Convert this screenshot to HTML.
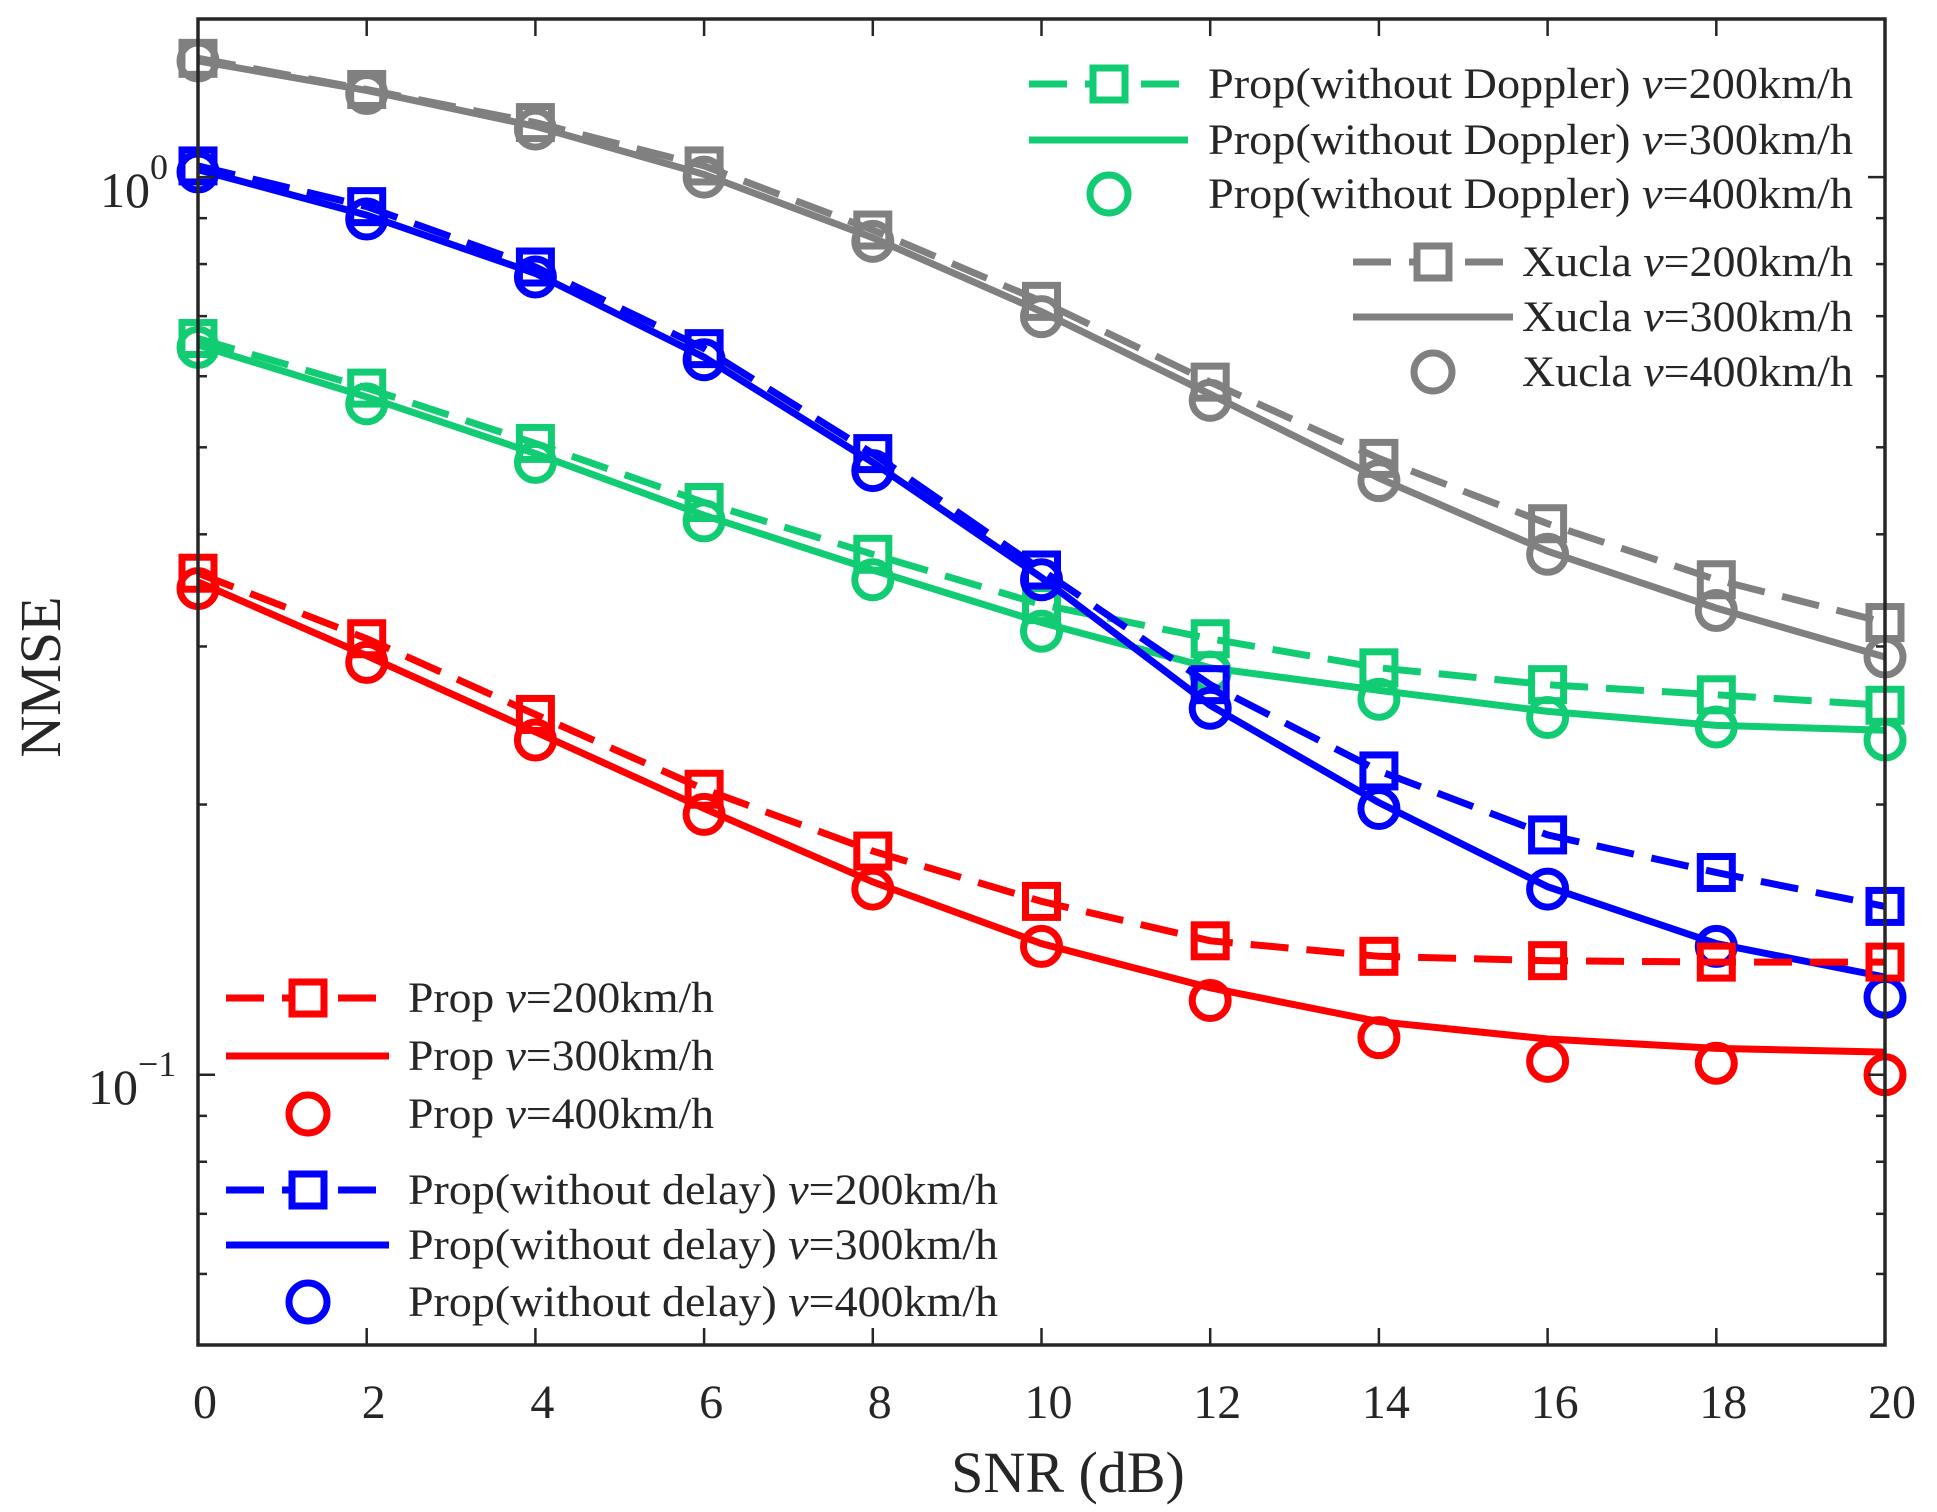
<!DOCTYPE html>
<html><head><meta charset="utf-8"><style>
html,body{margin:0;padding:0;background:#fff}
svg{display:block}
text{font-family:"Liberation Serif",serif;fill:#262626}
</style></head><body>
<svg id="chart" width="1937" height="1512" viewBox="0 0 1937 1512" xmlns="http://www.w3.org/2000/svg">
<rect width="1937" height="1512" fill="#fff"/>
<g id="series"></g>
<g id="axes"></g>
<g id="legends"></g>
</svg>
<script>
const snr = [0,2,4,6,8,10,12,14,16,18,20];
const xTicks = [0,2,4,6,8,10,12,14,16,18,20];
const xucla200 = [1.356,1.252,1.150,1.029,0.873,0.727,0.591,0.486,0.411,0.356,0.319];
const xucla300 = [1.347,1.249,1.139,1.007,0.856,0.708,0.573,0.462,0.383,0.331,0.292];
const xucla400 = [1.347,1.239,1.131,1.000,0.848,0.699,0.564,0.459,0.380,0.329,0.292];
const noDelay200 = [1.029,0.927,0.794,0.644,0.492,0.365,0.272,0.218,0.185,0.168,0.154];
const noDelay300 = [1.019,0.907,0.781,0.630,0.481,0.358,0.258,0.201,0.162,0.140,0.1285];
const noDelay400 = [1.013,0.898,0.774,0.626,0.471,0.356,0.256,0.198,0.161,0.139,0.122];
const noDop200 = [0.661,0.582,0.505,0.434,0.380,0.334,0.306,0.284,0.272,0.265,0.258];
const noDop300 = [0.650,0.569,0.492,0.420,0.365,0.319,0.284,0.268,0.254,0.245,0.242];
const noDop400 = [0.646,0.559,0.481,0.414,0.356,0.312,0.281,0.262,0.250,0.244,0.236];
const prop200 = [0.362,0.306,0.252,0.208,0.1775,0.156,0.141,0.1355,0.134,0.1335,0.1335];
const prop300 = [0.354,0.293,0.241,0.198,0.164,0.140,0.125,0.1146,0.1096,0.107,0.106];
const prop400 = [0.348,0.288,0.236,0.195,0.161,0.139,0.121,0.110,0.1035,0.103,0.100];

const NS='http://www.w3.org/2000/svg';
const L=198,R=1885,T=19,B=1345;
const yMin=0.05,yMax=1.5;
const xs=v=>L+(v-0)/(20-0)*(R-L);
const ys=v=>T+(Math.log10(yMax)-Math.log10(v))/(Math.log10(yMax)-Math.log10(yMin))*(B-T);
function mk(tag,attrs,parent){const e=document.createElementNS(NS,tag);for(const k in attrs)e.setAttribute(k,attrs[k]);parent.appendChild(e);return e;}
const gS=document.getElementById('series'),gA=document.getElementById('axes'),gL=document.getElementById('legends');
const RED='#ff0000',BLUE='#0000ff',GREEN='#12cc74',GRAY='#808080';
const DASH='38 18';
const LW=7, MW=7;
function series(vals,color,type,name){
  const g=mk('g',{},gS);
  
  
  const pts=vals.map((v,i)=>xs(snr[i]).toFixed(1)+','+ys(v).toFixed(1)).join(' ');
  if(type==='sq'){
    const p=mk('polyline',{points:pts,fill:'none',stroke:color,'stroke-width':LW,'stroke-dasharray':DASH},g);
    
    
    vals.forEach((v,i)=>{const r=mk('rect',{x:xs(snr[i])-16,y:ys(v)-16,width:32,height:32,fill:'none',stroke:color,'stroke-width':MW},g);
      
      });
  } else if(type==='line'){
    const p=mk('polyline',{points:pts,fill:'none',stroke:color,'stroke-width':LW},g);
    
    
  } else {
    vals.forEach((v,i)=>{const c=mk('circle',{cx:xs(snr[i]),cy:ys(v),r:18,fill:'none',stroke:color,'stroke-width':MW},g);
      
      });
  }
}
series(xucla200,GRAY,'sq','xucla-200');series(xucla300,GRAY,'line','xucla-300');series(xucla400,GRAY,'circ','xucla-400');
series(noDop200,GREEN,'sq','prop-no-doppler-200');series(noDop300,GREEN,'line','prop-no-doppler-300');series(noDop400,GREEN,'circ','prop-no-doppler-400');
series(noDelay200,BLUE,'sq','prop-no-delay-200');series(noDelay300,BLUE,'line','prop-no-delay-300');series(noDelay400,BLUE,'circ','prop-no-delay-400');
series(prop200,RED,'sq','prop-200');series(prop300,RED,'line','prop-300');series(prop400,RED,'circ','prop-400');

// axes
const box=mk('rect',{x:L,y:T,width:R-L,height:B-T,fill:'none',stroke:'#262626','stroke-width':3.5},gA);


xTicks.forEach(t=>{const x=xs(t);
  mk('line',{x1:x,y1:B,x2:x,y2:B-17,stroke:'#262626','stroke-width':2.5},gA);
  mk('line',{x1:x,y1:T,x2:x,y2:T+17,stroke:'#262626','stroke-width':2.5},gA);
  const tx=mk('text',{x:x+7,y:1418,'font-size':48,'text-anchor':'middle'},gA);tx.textContent=t;
  
  
});
const yMinor=[0.05,0.06,0.07,0.08,0.09,0.2,0.3,0.4,0.5,0.6,0.7,0.8,0.9];
yMinor.forEach(v=>{const y=ys(v);
  mk('line',{x1:L,y1:y,x2:L+9,y2:y,stroke:'#262626','stroke-width':2.5},gA);
  mk('line',{x1:R,y1:y,x2:R-9,y2:y,stroke:'#262626','stroke-width':2.5},gA);});
[1,0.1].forEach(v=>{const y=ys(v);
  mk('line',{x1:L,y1:y,x2:L+17,y2:y,stroke:'#262626','stroke-width':2.5},gA);
  mk('line',{x1:R,y1:y,x2:R-17,y2:y,stroke:'#262626','stroke-width':2.5},gA);});
const y0=mk('text',{x:100,y:207,'font-size':50},gA);y0.innerHTML='10<tspan dy="-28" font-size="36">0</tspan>';


const y1=mk('text',{x:88,y:1104,'font-size':50},gA);y1.innerHTML='10<tspan dy="-28" font-size="36">−1</tspan>';


const xt=mk('text',{x:1068,y:1492,'font-size':58,'text-anchor':'middle'},gA);xt.textContent='SNR (dB)';


const yt=mk('text',{x:0,y:0,'font-size':58,'text-anchor':'middle',transform:'translate(60,677) rotate(-90)'},gA);yt.textContent='NMSE';



// legends
function entry(cx,x1,x2,y,color,type,label,tx,tEnd,name){
  const g=mk('g',{},gL);
  
  
  if(type!=='circ') mk('line',{x1:x1,y1:y,x2:x2,y2:y,stroke:color,'stroke-width':LW,'stroke-dasharray':type==='sq'?'38 18':'none'},g);
  if(type==='sq') mk('rect',{x:cx-16,y:y-16,width:32,height:32,fill:'#fff',stroke:color,'stroke-width':MW},g);
  if(type==='circ') mk('circle',{cx:cx,cy:y,r:19,fill:'none',stroke:color,'stroke-width':MW},g);
  const t=mk('text',{x:tx,y:y+14,'font-size':43,textLength:tEnd-tx,lengthAdjust:'spacingAndGlyphs'},g);
  const m=label.match(/^(.*)v(=.*)$/);
  t.innerHTML=m[1]+'<tspan font-style="italic">v</tspan>'+m[2];
}
entry(1109,1029,1188,84,GREEN,'sq','Prop(without Doppler) v=200km/h',1208,1853,'legend-no-doppler-200');
entry(1109,1029,1188,140,GREEN,'line','Prop(without Doppler) v=300km/h',1208,1853,'legend-no-doppler-300');
entry(1109,1029,1188,194,GREEN,'circ','Prop(without Doppler) v=400km/h',1208,1853,'legend-no-doppler-400');
entry(1433,1353,1513,262,GRAY,'sq','Xucla v=200km/h',1522,1853,'legend-xucla-200');
entry(1433,1353,1513,317,GRAY,'line','Xucla v=300km/h',1522,1853,'legend-xucla-300');
entry(1433,1353,1513,372,GRAY,'circ','Xucla v=400km/h',1522,1853,'legend-xucla-400');
entry(308,226,389,998,RED,'sq','Prop v=200km/h',408,714,'legend-prop-200');
entry(308,226,389,1056,RED,'line','Prop v=300km/h',408,714,'legend-prop-300');
entry(308,226,389,1114,RED,'circ','Prop v=400km/h',408,714,'legend-prop-400');
entry(308,226,389,1190,BLUE,'sq','Prop(without delay) v=200km/h',408,998,'legend-no-delay-200');
entry(308,226,389,1245,BLUE,'line','Prop(without delay) v=300km/h',408,998,'legend-no-delay-300');
entry(308,226,389,1302,BLUE,'circ','Prop(without delay) v=400km/h',408,998,'legend-no-delay-400');
</script>
</body></html>
